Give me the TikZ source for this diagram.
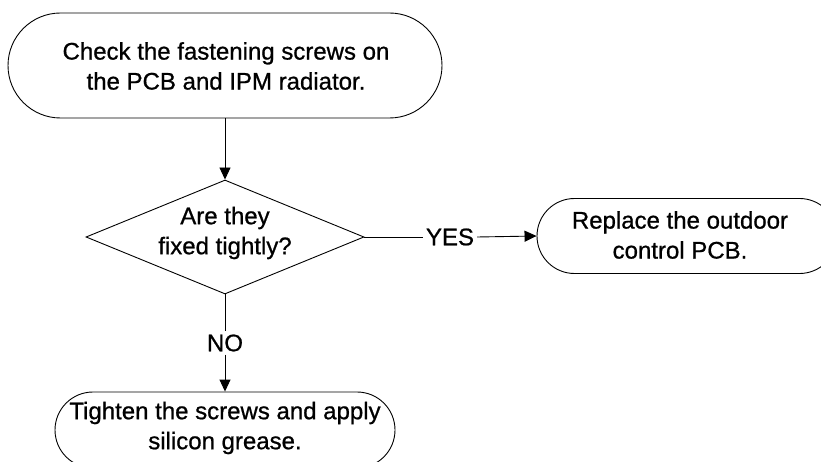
\documentclass[tikz,border=0pt]{standalone}
\usepackage{fontspec}
\setmainfont[FakeBold=0.8]{Liberation Sans}
\usetikzlibrary{arrows.meta,shapes.geometric}
\tikzset{
  term/.style={draw, line width=0.9pt, rectangle, inner sep=0pt},
  txt/.style={align=center, inner sep=0pt, font=\fontsize{24}{30}\selectfont},
  lbl/.style={inner sep=3pt, font=\fontsize{24}{30}\selectfont},
  dec/.style={draw, line width=0.9pt, diamond, inner sep=0pt},
  conn/.style={line width=0.9pt},
  arr/.style={line width=0.9pt, -{Triangle[length=12pt,width=11pt]}}
}
\begin{document}
\begin{tikzpicture}[x=1pt,y=-1pt]
\clip (0,0) rectangle (821,462);
% top terminator
\node[term, rounded corners=52.5pt, minimum width=434pt, minimum height=105pt] (top) at (225,65.5) {};
\node[txt] (toptxt) at (226,66) {Check the fastening screws on\\the PCB and IPM radiator.};
% decision
\node[dec, minimum width=278pt, minimum height=114pt] (dia) at (225,237) {};
\node[txt] (diatxt) at (225,233) {Are they\\fixed tightly?};
% right terminator
\node[term, rounded corners=37.5pt, minimum width=300pt, minimum height=75pt] (rbox) at (687,236) {};
\node[txt] (rtxt) at (680,235) {Replace the outdoor\\control PCB.};
% bottom terminator
\node[term, rounded corners=38pt, minimum width=340pt, minimum height=76pt] (bbox) at (225,430) {};
\node[txt] (btxt) at (225,428) {Tighten the screws and apply\\silicon grease.};
% labels
\node[lbl] (yes) at (450,237) {YES};
\node[lbl] (no) at (225,343) {NO};
% connectors
\draw[arr] (top.south) -- (dia.north);
\draw[conn] (dia.east) -- (yes.west);
\draw[arr] (yes.east) -- (rbox.west);
\draw[conn] (dia.south) -- (no.north);
\draw[arr] (no.south) -- (bbox.north);
\end{tikzpicture}
\end{document}
